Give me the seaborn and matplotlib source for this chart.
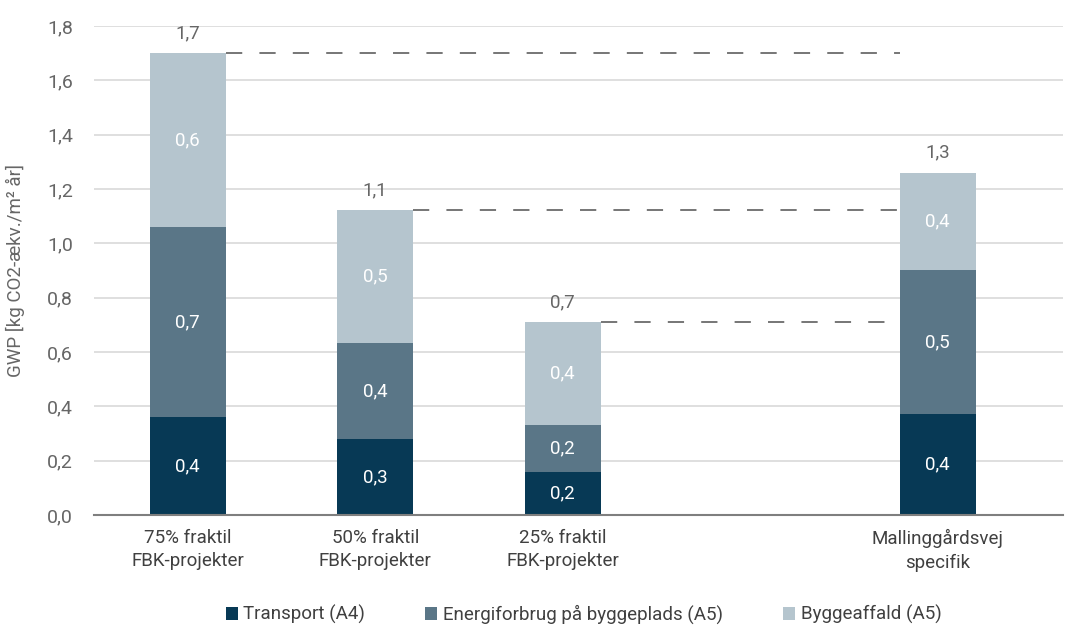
import matplotlib
matplotlib.use("Agg")
import matplotlib.pyplot as plt
from matplotlib.ticker import FuncFormatter, MultipleLocator
from matplotlib.patches import Patch
import seaborn as sns
import pandas as pd

# Categories (an empty slot separates the benchmarks from the project)
categories = ["75% fraktil\nFBK-projekter", "50% fraktil\nFBK-projekter",
              "25% fraktil\nFBK-projekter", " ", "Mallinggårdsvej\nspecifik"]
bar_categories = [categories[0], categories[1], categories[2], categories[4]]

transport = [0.36, 0.28, 0.16, 0.37]
energi = [0.70, 0.352, 0.17, 0.53]
affald = [0.64, 0.49, 0.38, 0.36]

series_names = ["Transport (A4)", "Energiforbrug på byggeplads (A5)", "Byggeaffald (A5)"]
colors = ["#073955", "#5a7687", "#b5c5ce"]

sns.set_theme(style="white")
plt.rcParams["font.family"] = ["Roboto", "DejaVu Sans"]

df = pd.DataFrame({
    "kategori": bar_categories,
    "transport": transport,
    "energi": energi,
    "affald": affald,
})
df["lvl1"] = df["transport"]
df["lvl2"] = df["transport"] + df["energi"]
df["lvl3"] = df["lvl2"] + df["affald"]

fig = plt.figure(figsize=(10.65, 6.26), dpi=100)
ax = fig.add_axes([0.0883, 0.1773, 0.9097, 0.7812])

width = 0.405
for col, c in zip(["lvl3", "lvl2", "lvl1"], colors[::-1]):
    sns.barplot(data=df, x="kategori", y=col, order=categories, color=c,
                width=width, saturation=1, ax=ax, zorder=3, linewidth=0)

ax.set_ylim(0, 1.8)
ax.set_xlim(-0.5, 4.668)
ax.yaxis.set_major_locator(MultipleLocator(0.2))
ax.yaxis.set_major_formatter(FuncFormatter(lambda v, p: f"{v:.1f}".replace(".", ",")))
ax.grid(axis="y", color="#d9d9d9", linewidth=1.2, zorder=0)
ax.set_axisbelow(True)
for s in ["top", "right", "left"]:
    ax.spines[s].set_visible(False)
ax.spines["bottom"].set_color("#7f7f7f")
ax.spines["bottom"].set_linewidth(1.5)
ax.spines["bottom"].set_zorder(4)
ax.tick_params(axis="y", length=0, labelsize=14, colors="#666666", pad=15)
ax.tick_params(axis="x", length=0, labelsize=13.5, colors="#404040", pad=10)
for lab in ax.get_xticklabels():
    lab.set_linespacing(1.4)
ax.set_xlabel("")
ax.set_ylabel("GWP [kg CO2-ækv./m² år]", fontsize=13.5, color="#666666", labelpad=16)

fmt = lambda v: f"{v:.1f}".replace(".", ",")
positions = [categories.index(k) for k in bar_categories]
for i, x in enumerate(positions):
    t, e, a = transport[i], energi[i], affald[i]
    ax.text(x, t / 2, fmt(t), ha="center", va="center", color="white", fontsize=13.5, zorder=5)
    ax.text(x, t + e / 2, fmt(e), ha="center", va="center", color="white", fontsize=13.5, zorder=5)
    ax.text(x, t + e + a / 2, fmt(a), ha="center", va="center", color="white", fontsize=13.5, zorder=5)
    total = t + e + a
    ax.text(x, total + 0.04, fmt(total), ha="center", va="bottom", color="#666666", fontsize=13.5, zorder=5)

# Reference lines from each benchmark to the project bar
proj_x = positions[-1] - width / 2
for i, x in enumerate(positions[:-1]):
    total = transport[i] + energi[i] + affald[i]
    ax.plot([x + width / 2, proj_x], [total, total], color="#6b6b6b",
            linewidth=1.3, dashes=(9, 9.5), zorder=4)

handles = [Patch(facecolor=c, edgecolor="none") for c in colors]
fig.legend(handles, series_names, loc="center", bbox_to_anchor=(0.548, 0.018),
           ncol=3, frameon=False, fontsize=13.5, handlelength=0.65, handleheight=0.65,
           handletextpad=0.3, columnspacing=3.2, labelcolor="#404040")

fig.savefig("out.png", dpi=100)
